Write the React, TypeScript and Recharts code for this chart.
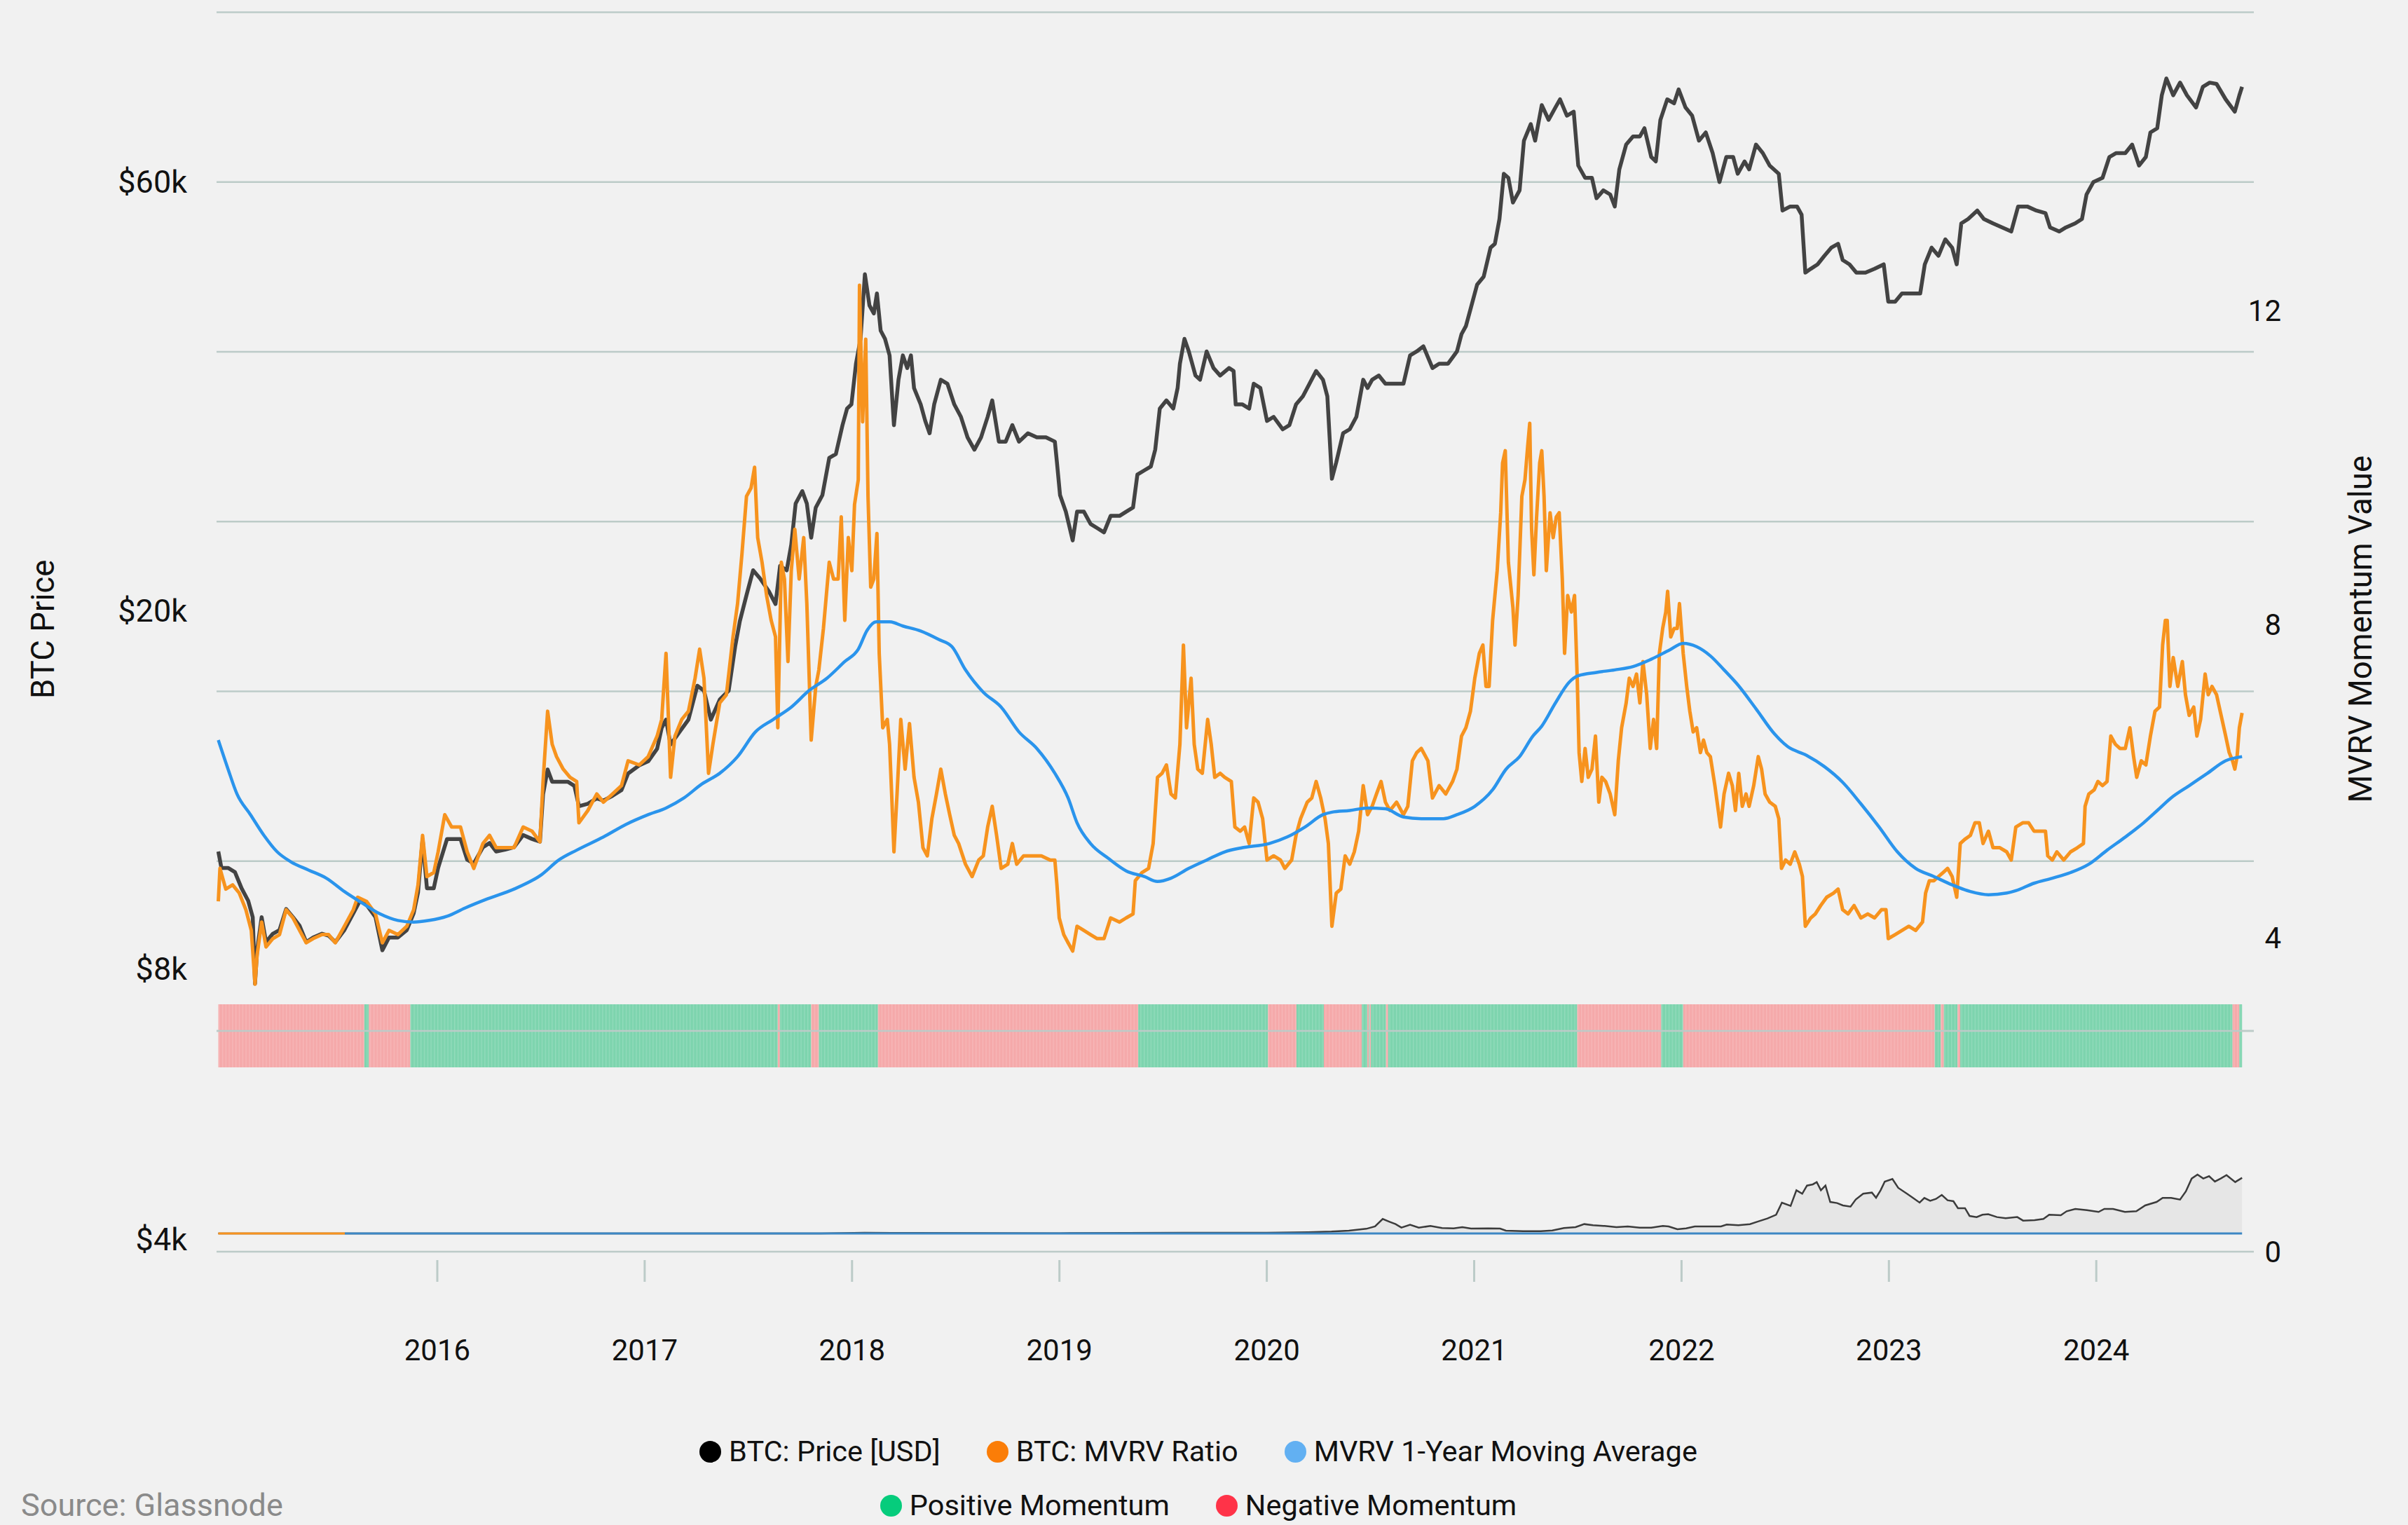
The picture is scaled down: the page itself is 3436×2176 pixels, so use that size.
import React from 'react';
import { ComposedChart, Line, Area, XAxis, YAxis, CartesianGrid, ReferenceArea, ReferenceLine } from 'recharts';

const W = 3436;
const H = 2176;
const FONT = "Roboto, 'Noto Sans', sans-serif";

// ---------- ticks / labels ----------
const yearTicks = [2016, 2017, 2018, 2019, 2020, 2021, 2022, 2023, 2024];
const priceLabelTicks = [4000, 8000, 20000, 60000];
const momentumTicks = [0, 4, 8, 12];
const gridLevels = [0, 1, 2, 3, 4, 5, 6];

// ---------- series (t = decimal year) ----------
const btcPrice: [number, number][] = [
  [2014.944,416],[2014.959,373],[2014.991,373],[2015.024,363],[2015.056,326],[2015.088,300],[2015.110,269],[2015.121,173],[2015.131,216],[2015.153,269],[2015.174,228],[2015.207,241],[2015.239,247],[2015.271,284],[2015.304,269],[2015.336,254],[2015.368,228],[2015.401,235],[2015.444,241],[2015.476,238],[2015.508,228],[2015.552,247],[2015.595,276],[2015.627,300],[2015.659,292],[2015.702,269],[2015.735,216],[2015.767,235],[2015.810,235],[2015.853,247],[2015.886,276],[2015.907,317],[2015.929,452],[2015.950,326],[2015.983,326],
  [2016.004,373],[2016.047,452],[2016.112,452],[2016.144,394],[2016.176,384],[2016.220,428],[2016.252,440],[2016.284,416],[2016.327,421],[2016.370,428],[2016.414,464],[2016.457,452],[2016.495,444],[2016.510,608],[2016.532,717],[2016.554,661],[2016.586,661],[2016.629,661],[2016.661,643],[2016.683,562],[2016.726,571],[2016.769,592],[2016.801,583],[2016.845,602],[2016.888,625],[2016.920,698],[2016.974,737],
  [2017.017,757],[2017.060,823],[2017.082,945],[2017.103,998],[2017.125,846],[2017.168,920],[2017.211,998],[2017.254,1250],[2017.286,1210],[2017.319,998],[2017.362,1140],[2017.405,1210],[2017.437,1630],[2017.459,1920],[2017.491,2280],[2017.523,2690],[2017.556,2550],[2017.599,2340],[2017.631,2150],[2017.653,2770],[2017.685,2690],[2017.707,3190],[2017.728,4190],[2017.760,4550],[2017.782,4190],[2017.803,3340],[2017.825,4080],[2017.857,4430],[2017.890,5670],[2017.922,5820],[2017.954,7050],[2017.976,7870],[2017.997,8090],
  [2018.019,10600],[2018.041,12500],[2018.062,19200],[2018.084,15600],[2018.105,14800],[2018.120,16900],[2018.138,13200],[2018.159,12500],[2018.181,11200],[2018.202,7050],[2018.224,9530],[2018.245,11200],[2018.266,10300],[2018.284,11200],[2018.299,9020],[2018.331,8090],[2018.353,7250],[2018.374,6680],[2018.396,8090],[2018.428,9530],[2018.460,9280],[2018.493,8090],[2018.525,7450],[2018.557,6500],[2018.590,5990],[2018.622,6500],[2018.654,7450],[2018.676,8310],[2018.708,6320],[2018.741,6320],[2018.773,7050],[2018.805,6320],[2018.848,6680],[2018.891,6500],[2018.935,6500],[2018.978,6320],[2018.988,5510],
  [2019.003,4430],[2019.031,3970],[2019.064,3280],[2019.085,3970],[2019.118,3970],[2019.150,3660],[2019.182,3560],[2019.215,3460],[2019.247,3860],[2019.290,3860],[2019.322,3970],[2019.355,4080],[2019.376,5080],[2019.409,5220],[2019.441,5360],[2019.462,5990],[2019.484,7870],[2019.516,8310],[2019.549,7870],[2019.570,9020],[2019.581,10600],[2019.603,12500],[2019.624,11500],[2019.656,9800],[2019.678,9530],[2019.710,11500],[2019.743,10300],[2019.775,9800],[2019.818,10300],[2019.840,10100],[2019.850,8090],[2019.883,8090],[2019.915,7870],[2019.937,9280],[2019.969,9020],
  [2020.001,7250],[2020.033,7450],[2020.077,6860],[2020.109,7050],[2020.141,8090],[2020.174,8540],[2020.206,9280],[2020.238,10100],[2020.271,9530],[2020.292,8540],[2020.314,4940],[2020.335,5510],[2020.368,6680],[2020.400,6860],[2020.432,7450],[2020.465,9530],[2020.486,9020],[2020.508,9530],[2020.540,9800],[2020.572,9280],[2020.615,9280],[2020.659,9280],[2020.691,11200],[2020.723,11500],[2020.755,11900],[2020.799,10300],[2020.831,10600],[2020.874,10600],[2020.917,11500],[2020.939,12900],[2020.960,13600],[2020.982,15200],
  [2021.014,17900],[2021.046,18900],[2021.079,22900],[2021.100,23500],[2021.122,27700],[2021.143,37400],[2021.165,36400],[2021.187,30900],[2021.219,33500],[2021.240,46600],[2021.273,52000],[2021.294,46600],[2021.326,59000],[2021.359,53500],[2021.392,58100],[2021.414,61300],[2021.447,55000],[2021.480,56500],[2021.502,39500],[2021.535,36400],[2021.568,36400],[2021.590,31800],[2021.623,33500],[2021.656,32600],[2021.678,30100],[2021.700,38500],[2021.733,45400],[2021.766,47900],[2021.799,47900],[2021.821,50600],[2021.854,41800],[2021.876,40600],[2021.898,53500],[2021.931,61300],[2021.964,59700],[2021.986,65500],
  [2022.019,58100],[2022.051,55000],[2022.084,46600],[2022.117,49200],[2022.150,42900],[2022.183,35400],[2022.216,41800],[2022.249,41800],[2022.271,37400],[2022.304,40600],[2022.326,38500],[2022.359,45400],[2022.392,42900],[2022.425,39500],[2022.469,37400],[2022.487,29300],[2022.524,30100],[2022.557,30100],[2022.579,28500],[2022.597,19400],[2022.623,19900],[2022.656,20500],[2022.689,21700],[2022.722,22900],[2022.755,23500],[2022.777,21100],[2022.810,20500],[2022.843,19400],[2022.887,19400],[2022.931,19900],[2022.975,20500],[2022.997,16000],
  [2023.030,16000],[2023.063,16900],[2023.107,16900],[2023.151,16900],[2023.173,20500],[2023.206,22900],[2023.239,21700],[2023.272,24200],[2023.305,22900],[2023.327,20500],[2023.349,26900],[2023.382,27700],[2023.426,29300],[2023.458,27700],[2023.502,26900],[2023.546,26200],[2023.590,25500],[2023.623,30100],[2023.667,30100],[2023.711,29300],[2023.755,28800],[2023.777,26200],[2023.821,25500],[2023.854,26200],[2023.898,26900],[2023.931,27700],[2023.953,32600],[2023.986,35400],
  [2024.030,36400],[2024.063,41800],[2024.096,42900],[2024.140,42900],[2024.173,45400],[2024.206,39500],[2024.239,41800],[2024.261,49200],[2024.294,50600],[2024.316,63000],[2024.338,70400],[2024.371,63000],[2024.404,68500],[2024.437,63000],[2024.481,58100],[2024.514,66600],[2024.547,68500],[2024.580,67900],[2024.624,61300],[2024.668,56500],[2024.690,63000],[2024.703,66600],
];

const mvrvRatio: [number, number][] = [
  [2014.944,0.995],[2014.952,1.193],[2014.980,1.069],[2015.013,1.094],[2015.045,1.045],[2015.077,0.945],[2015.103,0.821],[2015.121,0.499],[2015.131,0.673],[2015.153,0.871],[2015.174,0.722],[2015.207,0.772],[2015.239,0.796],[2015.271,0.945],[2015.304,0.896],[2015.336,0.821],[2015.368,0.747],[2015.401,0.772],[2015.444,0.796],[2015.476,0.796],[2015.508,0.747],[2015.552,0.846],[2015.595,0.945],[2015.616,1.020],[2015.659,0.995],[2015.702,0.920],[2015.735,0.747],[2015.767,0.821],[2015.810,0.796],[2015.853,0.846],[2015.886,0.945],[2015.907,1.094],[2015.929,1.391],[2015.950,1.144],[2015.983,1.168],
  [2016.004,1.292],[2016.036,1.515],[2016.069,1.441],[2016.112,1.441],[2016.144,1.292],[2016.176,1.193],[2016.220,1.342],[2016.252,1.391],[2016.284,1.317],[2016.327,1.317],[2016.370,1.317],[2016.414,1.441],[2016.457,1.416],[2016.495,1.352],[2016.510,1.714],[2016.532,2.135],[2016.554,1.937],[2016.575,1.863],[2016.607,1.788],[2016.640,1.739],[2016.672,1.714],[2016.683,1.466],[2016.726,1.540],[2016.769,1.639],[2016.801,1.590],[2016.845,1.639],[2016.888,1.689],[2016.920,1.838],[2016.974,1.813],
  [2017.017,1.863],[2017.060,1.986],[2017.082,2.086],[2017.103,2.482],[2017.125,1.739],[2017.146,1.986],[2017.179,2.086],[2017.211,2.135],[2017.243,2.333],[2017.265,2.507],[2017.286,2.333],[2017.308,1.763],[2017.329,1.937],[2017.362,2.185],[2017.394,2.234],[2017.426,2.581],[2017.448,2.780],[2017.469,3.077],[2017.491,3.424],[2017.513,3.474],[2017.530,3.598],[2017.545,3.176],[2017.566,3.028],[2017.588,2.829],[2017.610,2.680],[2017.631,2.581],[2017.642,2.036],[2017.659,3.028],[2017.674,2.928],[2017.691,2.433],[2017.707,2.978],[2017.724,3.226],[2017.745,2.928],[2017.767,3.176],[2017.782,2.780],[2017.803,1.962],[2017.825,2.284],[2017.840,2.383],[2017.862,2.631],[2017.890,3.028],[2017.911,2.928],[2017.933,2.928],[2017.948,3.300],[2017.965,2.680],[2017.982,3.176],[2017.999,2.978],
  [2018.012,3.375],[2018.030,3.523],[2018.036,4.689],[2018.051,3.870],[2018.066,4.366],[2018.077,3.424],[2018.090,2.879],[2018.105,2.928],[2018.120,3.201],[2018.131,2.482],[2018.148,2.036],[2018.170,2.086],[2018.181,1.937],[2018.191,1.639],[2018.202,1.292],[2018.217,1.639],[2018.235,2.086],[2018.256,1.788],[2018.277,2.061],[2018.299,1.739],[2018.320,1.590],[2018.342,1.317],[2018.363,1.268],[2018.385,1.491],[2018.407,1.639],[2018.428,1.788],[2018.450,1.639],[2018.471,1.515],[2018.493,1.391],[2018.514,1.342],[2018.547,1.218],[2018.579,1.144],[2018.611,1.243],[2018.633,1.268],[2018.654,1.441],[2018.676,1.565],[2018.697,1.391],[2018.719,1.193],[2018.751,1.218],[2018.773,1.342],[2018.794,1.218],[2018.827,1.268],[2018.870,1.268],[2018.913,1.268],[2018.956,1.243],[2018.978,1.243],[2018.988,1.094],[2018.999,0.896],
  [2019.021,0.796],[2019.042,0.747],[2019.064,0.697],[2019.085,0.846],[2019.118,0.821],[2019.150,0.796],[2019.182,0.772],[2019.215,0.772],[2019.247,0.896],[2019.290,0.871],[2019.322,0.896],[2019.355,0.920],[2019.366,1.119],[2019.398,1.168],[2019.430,1.193],[2019.452,1.342],[2019.473,1.739],[2019.495,1.763],[2019.516,1.813],[2019.538,1.639],[2019.559,1.615],[2019.581,1.937],[2019.598,2.532],[2019.613,2.036],[2019.635,2.333],[2019.650,1.937],[2019.667,1.788],[2019.689,1.763],[2019.715,2.086],[2019.732,1.937],[2019.749,1.739],[2019.775,1.763],[2019.797,1.739],[2019.829,1.714],[2019.846,1.441],[2019.872,1.416],[2019.893,1.441],[2019.915,1.342],[2019.937,1.615],[2019.958,1.590],[2019.980,1.491],
  [2020.001,1.243],[2020.033,1.268],[2020.066,1.243],[2020.087,1.193],[2020.120,1.243],[2020.141,1.391],[2020.163,1.491],[2020.195,1.590],[2020.217,1.615],[2020.238,1.714],[2020.260,1.615],[2020.281,1.491],[2020.297,1.342],[2020.314,0.846],[2020.335,1.045],[2020.357,1.069],[2020.378,1.268],[2020.400,1.218],[2020.422,1.292],[2020.443,1.416],[2020.465,1.689],[2020.486,1.515],[2020.508,1.565],[2020.529,1.639],[2020.551,1.714],[2020.572,1.590],[2020.594,1.540],[2020.626,1.590],[2020.659,1.515],[2020.680,1.565],[2020.702,1.838],[2020.723,1.887],[2020.745,1.912],[2020.777,1.838],[2020.799,1.615],[2020.831,1.689],[2020.863,1.639],[2020.896,1.714],[2020.917,1.788],[2020.939,1.986],[2020.960,2.036],[2020.982,2.135],
  [2021.003,2.333],[2021.025,2.482],[2021.042,2.532],[2021.057,2.284],[2021.072,2.284],[2021.089,2.680],[2021.111,2.978],[2021.128,3.325],[2021.137,3.623],[2021.150,3.697],[2021.165,3.028],[2021.187,2.755],[2021.197,2.532],[2021.212,2.829],[2021.230,3.424],[2021.245,3.523],[2021.258,3.722],[2021.268,3.861],[2021.277,3.226],[2021.288,2.953],[2021.301,3.300],[2021.316,3.623],[2021.326,3.697],[2021.337,3.424],[2021.348,2.978],[2021.366,3.325],[2021.381,3.176],[2021.396,3.300],[2021.410,3.325],[2021.425,2.928],[2021.436,2.482],[2021.451,2.829],[2021.469,2.730],[2021.484,2.829],[2021.497,2.333],[2021.506,1.887],[2021.519,1.714],[2021.535,1.912],[2021.550,1.739],[2021.568,1.788],[2021.585,1.986],[2021.601,1.590],[2021.616,1.739],[2021.634,1.714],[2021.656,1.639],[2021.678,1.515],[2021.695,1.838],[2021.711,2.036],[2021.733,2.185],[2021.748,2.333],[2021.766,2.284],[2021.783,2.358],[2021.799,2.185],[2021.814,2.433],[2021.832,2.234],[2021.849,1.912],[2021.865,2.086],[2021.880,1.912],[2021.893,2.482],[2021.909,2.631],[2021.924,2.730],[2021.933,2.854],[2021.948,2.581],[2021.964,2.631],[2021.979,2.631],[2021.990,2.780],
  [2022.008,2.482],[2022.025,2.284],[2022.040,2.135],[2022.056,2.011],[2022.073,2.036],[2022.091,1.887],[2022.106,1.962],[2022.122,1.887],[2022.139,1.863],[2022.161,1.689],[2022.188,1.441],[2022.205,1.639],[2022.227,1.763],[2022.245,1.689],[2022.260,1.540],[2022.276,1.763],[2022.293,1.565],[2022.311,1.639],[2022.326,1.565],[2022.348,1.689],[2022.370,1.863],[2022.386,1.788],[2022.403,1.639],[2022.425,1.590],[2022.452,1.565],[2022.469,1.491],[2022.482,1.193],[2022.502,1.243],[2022.524,1.218],[2022.546,1.292],[2022.568,1.218],[2022.583,1.144],[2022.597,0.846],[2022.623,0.896],[2022.645,0.920],[2022.671,0.970],[2022.700,1.020],[2022.733,1.045],[2022.755,1.069],[2022.777,0.945],[2022.803,0.920],[2022.832,0.970],[2022.865,0.896],[2022.898,0.920],[2022.931,0.896],[2022.964,0.945],[2022.986,0.945],[2022.997,0.772],
  [2023.030,0.796],[2023.063,0.821],[2023.096,0.846],[2023.129,0.821],[2023.162,0.871],[2023.177,1.045],[2023.195,1.119],[2023.217,1.119],[2023.239,1.144],[2023.261,1.168],[2023.283,1.193],[2023.305,1.144],[2023.327,1.020],[2023.344,1.342],[2023.366,1.367],[2023.393,1.391],[2023.415,1.466],[2023.436,1.466],[2023.454,1.342],[2023.480,1.416],[2023.502,1.317],[2023.535,1.317],[2023.568,1.292],[2023.590,1.243],[2023.612,1.441],[2023.645,1.466],[2023.674,1.466],[2023.700,1.416],[2023.733,1.416],[2023.755,1.416],[2023.766,1.268],[2023.788,1.243],[2023.810,1.292],[2023.843,1.243],[2023.876,1.292],[2023.909,1.317],[2023.938,1.342],[2023.946,1.565],[2023.964,1.639],[2023.990,1.664],
  [2024.008,1.714],[2024.030,1.689],[2024.052,1.714],[2024.070,1.986],[2024.092,1.937],[2024.114,1.912],[2024.140,1.912],[2024.162,2.036],[2024.180,1.863],[2024.195,1.739],[2024.217,1.838],[2024.239,1.813],[2024.261,1.986],[2024.283,2.135],[2024.305,2.160],[2024.320,2.532],[2024.333,2.680],[2024.342,2.680],[2024.355,2.284],[2024.371,2.457],[2024.393,2.284],[2024.415,2.433],[2024.430,2.234],[2024.448,2.110],[2024.470,2.160],[2024.485,1.986],[2024.503,2.086],[2024.525,2.358],[2024.540,2.234],[2024.558,2.284],[2024.580,2.234],[2024.602,2.110],[2024.624,1.986],[2024.641,1.887],[2024.657,1.838],[2024.668,1.788],[2024.679,1.863],[2024.690,2.036],[2024.703,2.125],
];

const mvrvAvg: [number, number][] = [
  [2014.944,1.962],[2014.991,1.788],[2015.034,1.639],[2015.099,1.515],[2015.164,1.391],[2015.228,1.292],[2015.293,1.233],[2015.379,1.183],[2015.465,1.134],[2015.552,1.054],[2015.638,0.985],[2015.724,0.920],[2015.810,0.881],[2015.886,0.871],[2015.961,0.881],
  [2016.047,0.906],[2016.133,0.955],[2016.241,1.010],[2016.370,1.069],[2016.500,1.153],[2016.586,1.243],[2016.672,1.302],[2016.801,1.381],[2016.909,1.456],
  [2017.017,1.515],[2017.103,1.555],[2017.189,1.615],[2017.276,1.699],[2017.362,1.763],[2017.448,1.863],[2017.534,2.011],[2017.620,2.086],[2017.707,2.160],[2017.793,2.259],[2017.879,2.333],[2017.965,2.433],
  [2018.030,2.507],[2018.073,2.621],[2018.116,2.671],[2018.181,2.671],[2018.245,2.646],[2018.331,2.616],[2018.417,2.566],[2018.482,2.522],[2018.547,2.383],[2018.633,2.249],[2018.719,2.160],[2018.805,2.011],[2018.891,1.912],[2018.978,1.763],
  [2019.042,1.615],[2019.085,1.466],[2019.150,1.342],[2019.236,1.253],[2019.322,1.178],[2019.409,1.144],[2019.473,1.114],[2019.538,1.134],[2019.624,1.193],[2019.710,1.243],[2019.797,1.292],[2019.883,1.317],
  [2020.012,1.342],[2020.098,1.381],[2020.184,1.441],[2020.271,1.515],[2020.314,1.530],[2020.400,1.540],[2020.486,1.555],[2020.572,1.550],[2020.659,1.501],[2020.745,1.491],[2020.852,1.491],[2020.917,1.515],
  [2021.003,1.565],[2021.089,1.664],[2021.154,1.788],[2021.219,1.863],[2021.283,1.986],[2021.326,2.046],[2021.392,2.185],[2021.458,2.309],[2021.502,2.348],[2021.590,2.368],[2021.678,2.383],[2021.766,2.403],[2021.854,2.447],[2021.942,2.502],
  [2022.008,2.542],[2022.073,2.522],[2022.139,2.467],[2022.205,2.383],[2022.271,2.294],[2022.359,2.150],[2022.447,2.001],[2022.513,1.922],[2022.601,1.872],[2022.689,1.803],[2022.777,1.709],[2022.865,1.580],[2022.953,1.441],
  [2023.041,1.292],[2023.129,1.193],[2023.217,1.144],[2023.305,1.094],[2023.393,1.054],[2023.480,1.035],[2023.568,1.045],[2023.612,1.059],[2023.700,1.104],[2023.788,1.134],[2023.876,1.168],[2023.964,1.218],
  [2024.052,1.302],[2024.140,1.381],[2024.228,1.466],[2024.294,1.540],[2024.360,1.615],[2024.448,1.689],[2024.536,1.763],[2024.624,1.838],[2024.703,1.863],
];

const lowerPanel: [number, number][] = [
  [2014.944,0],[2017.850,0],[2018.060,0.012],[2018.300,0.008],[2019.000,0.004],[2019.600,0.012],[2020.000,0.012],[2020.200,0.02],
  [2020.312,0.031],[2020.396,0.047],[2020.480,0.078],[2020.522,0.118],[2020.559,0.243],[2020.592,0.196],[2020.621,0.157],[2020.649,0.098],[2020.691,0.145],[2020.733,0.098],[2020.789,0.125],[2020.845,0.090],[2020.901,0.086],[2020.943,0.106],[2020.985,0.082],
  [2021.069,0.086],[2021.125,0.082],[2021.153,0.047],[2021.237,0.039],[2021.321,0.039],[2021.377,0.051],[2021.433,0.090],[2021.489,0.106],[2021.531,0.157],[2021.573,0.137],[2021.629,0.125],[2021.686,0.106],[2021.741,0.118],[2021.798,0.098],[2021.854,0.098],[2021.910,0.125],[2021.938,0.118],[2021.980,0.071],
  [2022.022,0.086],[2022.064,0.118],[2022.134,0.118],[2022.190,0.118],[2022.218,0.149],[2022.274,0.137],[2022.330,0.157],[2022.372,0.204],[2022.414,0.251],[2022.456,0.314],[2022.484,0.518],[2022.526,0.463],[2022.554,0.725],[2022.582,0.667],[2022.605,0.804],[2022.633,0.824],[2022.652,0.863],[2022.672,0.725],[2022.694,0.804],[2022.717,0.529],[2022.750,0.510],[2022.778,0.471],[2022.815,0.451],[2022.840,0.569],[2022.876,0.667],[2022.918,0.686],[2022.938,0.600],[2022.960,0.725],[2022.980,0.871],
  [2023.017,0.914],[2023.045,0.765],[2023.087,0.667],[2023.115,0.600],[2023.148,0.518],[2023.171,0.596],[2023.199,0.549],[2023.227,0.580],[2023.255,0.647],[2023.283,0.557],[2023.311,0.541],[2023.333,0.424],[2023.367,0.424],[2023.389,0.294],[2023.423,0.275],[2023.451,0.314],[2023.479,0.322],[2023.521,0.275],[2023.563,0.255],[2023.619,0.275],[2023.647,0.216],[2023.703,0.224],[2023.745,0.243],[2023.773,0.314],[2023.829,0.306],[2023.857,0.373],[2023.899,0.412],[2023.955,0.392],
  [2024.011,0.361],[2024.039,0.412],[2024.081,0.412],[2024.138,0.361],[2024.193,0.373],[2024.236,0.471],[2024.291,0.529],[2024.320,0.596],[2024.361,0.596],[2024.404,0.569],[2024.432,0.706],[2024.460,0.922],[2024.488,0.988],[2024.516,0.922],[2024.544,0.961],[2024.572,0.871],[2024.600,0.922],[2024.628,0.980],[2024.670,0.863],[2024.703,0.933],
];

const baseOrange: [number, number][] = [[2014.944, 0], [2015.554, 0]];
const baseBlue: [number, number][] = [[2015.554, 0], [2024.703, 0]];

// momentum regime runs: consecutive breaks, sign per run (-1 negative, 1 positive)
const momentumBreaks = [2014.944, 2015.648, 2015.670, 2015.870, 2017.642, 2017.652, 2017.803, 2017.840, 2018.125, 2019.380, 2020.006, 2020.143, 2020.275, 2020.458, 2020.485, 2020.492, 2020.497, 2020.502, 2020.575, 2020.585, 2021.497, 2021.902, 2022.008, 2023.221, 2023.250, 2023.265, 2023.331, 2023.344, 2024.657, 2024.690, 2024.703];
const momentumSigns = [-1, 1, -1, 1, -1, 1, -1, 1, -1, 1, -1, 1, -1, 1, -1, 1, -1, 1, -1, 1, -1, 1, -1, 1, -1, 1, -1, 1, -1, 1];

// ---------- styling ----------
const C_PRICE = '#434343';
const C_MVRV = '#f7931e';
const C_AVG = '#2a94ec';
const C_BASE_BLUE = '#3d87c4';
const C_POS = '#7dd4ae';
const C_NEG = '#f5a9aa';
const C_GRID = '#bccbc8';

function buildRows() {
  const map = new Map<number, any>();
  const add = (arr: [number, number][], key: string) => {
    arr.forEach(([t, v]) => {
      const k = Math.round(t * 1000);
      if (!map.has(k)) map.set(k, { t: k / 1000 });
      map.get(k)[key] = v;
    });
  };
  add(btcPrice, 'price');
  add(mvrvRatio, 'mvrv');
  add(mvrvAvg, 'avg');
  add(lowerPanel, 'low');
  add(baseOrange, 'baseO');
  add(baseBlue, 'baseB');
  return Array.from(map.values()).sort((a, b) => a.t - b.t);
}

const runs = momentumSigns.map((s, i) => ({ x1: momentumBreaks[i], x2: momentumBreaks[i + 1], s }));

const XTick = (props: any) => {
  const { x, y, payload } = props;
  return (
    <g>
      <line x1={x} x2={x} y1={y + 12} y2={y + 43} stroke={C_GRID} strokeWidth={3} />
      <text x={x} y={y + 155} textAnchor="middle" fontSize={42} fontFamily={FONT} fill="#111">
        {payload.value}
      </text>
    </g>
  );
};

const LeftTick = (props: any) => {
  const { x, y, payload } = props;
  return (
    <text x={x - 42} y={y} dy="0.36em" textAnchor="end" fontSize={45} fontFamily={FONT} fill="#111">
      {'$' + payload.value / 1000 + 'k'}
    </text>
  );
};

const RightTick = (props: any) => {
  const { x, y, payload } = props;
  return (
    <text x={x + 39} y={y} dy="0.36em" textAnchor="end" fontSize={42} fontFamily={FONT} fill="#111">
      {payload.value}
    </text>
  );
};

const AxisTitle = (props: any) => {
  const { viewBox, text, dx } = props;
  if (!viewBox) return null;
  const cx = viewBox.x + dx;
  const cy = viewBox.y + viewBox.height / 2 - 4;
  return (
    <text x={cx} y={cy} transform={`rotate(-90 ${cx} ${cy})`} textAnchor="middle" dominantBaseline="central" fontSize={45.5} fontFamily={FONT} fill="#111">
      {text}
    </text>
  );
};

const legendRow1 = [
  { label: 'BTC: Price [USD]', color: '#000000' },
  { label: 'BTC: MVRV Ratio', color: '#fb7d07' },
  { label: 'MVRV 1-Year Moving Average', color: '#62b0f2' },
];
const legendRow2 = [
  { label: 'Positive Momentum', color: '#06cc7c' },
  { label: 'Negative Momentum', color: '#ff3348' },
];

const LegendRow = ({ items, top, h }: { items: { label: string; color: string }[]; top: number; h: number }) => (
  <div style={{ position: 'absolute', left: 0, width: 3420, top, height: h, display: 'flex', justifyContent: 'center', alignItems: 'center', gap: 66 }}>
    {items.map((it) => (
      <div key={it.label} style={{ display: 'flex', alignItems: 'center', gap: 11, height: h }}>
        <span style={{ width: 31, height: 31, borderRadius: '50%', background: it.color, display: 'inline-block' }} />
        <span style={{ fontSize: 41.5, lineHeight: `${h}px`, color: '#111', fontFamily: FONT }}>{it.label}</span>
      </div>
    ))}
  </div>
);

export default function App() {
  const rows = React.useMemo(buildRows, []);
  return (
    <div style={{ position: 'relative', width: W, height: H, background: '#f1f1f1', fontFamily: FONT, overflow: 'hidden' }}>
      <style>{`html,body{margin:0;padding:0;background:#f1f1f1;}`}</style>
      <svg width={0} height={0} style={{ position: 'absolute' }}>
        <defs>
          <pattern id="bandStripes" patternUnits="userSpaceOnUse" width={4.8} height={10}>
            <rect x={0} y={0} width={1.4} height={10} fill="#ffffff" fillOpacity={0.16} />
          </pattern>
        </defs>
      </svg>
      <ComposedChart width={W} height={H} data={rows} margin={{ top: 17.5, right: 0, bottom: 0, left: 0 }}>
        <XAxis
          xAxisId={0}
          dataKey="t"
          type="number"
          domain={[2014.9355, 2024.7597]}
          allowDataOverflow
          ticks={yearTicks}
          tick={(p: any) => <XTick {...p} />}
          tickSize={0}
          tickMargin={0}
          tickLine={false}
          axisLine={false}
          height={390}
          interval={0}
        />
        <YAxis
          yAxisId="priceLabels"
          orientation="left"
          width={309}
          scale="log"
          type="number"
          domain={[3872, 92500]}
          allowDataOverflow
          ticks={priceLabelTicks}
          tick={(p: any) => <LeftTick {...p} />}
          tickSize={0}
          tickMargin={0}
          tickLine={false}
          axisLine={false}
          interval={0}
          label={<AxisTitle text="BTC Price" dx={61} />}
        />
        <YAxis
          yAxisId="momentum"
          orientation="right"
          width={220}
          type="number"
          domain={[0, 15.8]}
          allowDataOverflow
          ticks={momentumTicks}
          tick={(p: any) => <RightTick {...p} />}
          tickSize={0}
          tickMargin={0}
          tickLine={false}
          axisLine={false}
          interval={0}
          label={<AxisTitle text="MVRV Momentum Value" dx={152} />}
        />
        <YAxis yAxisId="price" hide width={0} orientation="right" scale="log" type="number" domain={[29.2, 109270]} allowDataOverflow />
        <YAxis yAxisId="mvrv" hide width={0} orientation="right" type="number" domain={[-1.105, 6.3256]} allowDataOverflow />
        <YAxis yAxisId="grid" hide width={0} orientation="right" type="number" domain={[-1.3, 6]} ticks={gridLevels} allowDataOverflow />
        <YAxis yAxisId="band" hide width={0} orientation="right" type="number" domain={[-2.922, 16.728]} allowDataOverflow />
        <YAxis yAxisId="low" hide width={0} orientation="right" type="number" domain={[-0.306, 20.5]} allowDataOverflow />

        {runs.map((r, i) => (
          <ReferenceArea
            key={'run' + i}
            xAxisId={0}
            yAxisId="band"
            x1={r.x1}
            x2={r.x2}
            y1={0}
            y2={1}
            fill={r.s > 0 ? C_POS : C_NEG}
            fillOpacity={1}
            stroke="none"
            ifOverflow="visible"
          />
        ))}
        <ReferenceArea
          xAxisId={0}
          yAxisId="band"
          x1={momentumBreaks[0]}
          x2={momentumBreaks[momentumBreaks.length - 1]}
          y1={0}
          y2={1}
          fill="url(#bandStripes)"
          fillOpacity={1}
          stroke="none"
          ifOverflow="visible"
        />

        <CartesianGrid yAxisId="grid" vertical={false} stroke={C_GRID} strokeWidth={2.5} />
        <ReferenceLine yAxisId="grid" y={0} stroke={C_GRID} strokeWidth={2.5} ifOverflow="visible" />

        <Area
          yAxisId="low"
          dataKey="low"
          type="linear"
          stroke="#3c3c3c"
          strokeWidth={2.5}
          fill="#e6e6e6"
          fillOpacity={1}
          baseValue={0}
          connectNulls
          dot={false}
          activeDot={false}
          isAnimationActive={false}
        />
        <Line yAxisId="low" dataKey="baseO" type="linear" stroke={C_MVRV} strokeWidth={3} dot={false} activeDot={false} connectNulls isAnimationActive={false} />
        <Line yAxisId="low" dataKey="baseB" type="linear" stroke={C_BASE_BLUE} strokeWidth={3} dot={false} activeDot={false} connectNulls isAnimationActive={false} />

        <Line yAxisId="price" dataKey="price" type="linear" stroke={C_PRICE} strokeWidth={5.5} dot={false} activeDot={false} connectNulls isAnimationActive={false} strokeLinejoin="round" />
        <Line yAxisId="mvrv" dataKey="mvrv" type="linear" stroke={C_MVRV} strokeWidth={5} dot={false} activeDot={false} connectNulls isAnimationActive={false} strokeLinejoin="round" />
        <Line yAxisId="mvrv" dataKey="avg" type="monotone" stroke={C_AVG} strokeWidth={4.5} dot={false} activeDot={false} connectNulls isAnimationActive={false} />
      </ComposedChart>

      <LegendRow items={legendRow1} top={2046} h={50} />
      <LegendRow items={legendRow2} top={2126} h={44} />
      <div style={{ position: 'absolute', left: 30, top: 2126, height: 44, lineHeight: '44px', fontSize: 45, color: '#8a8a8a', fontFamily: FONT, whiteSpace: 'nowrap' }}>
        Source: Glassnode
      </div>
    </div>
  );
}
